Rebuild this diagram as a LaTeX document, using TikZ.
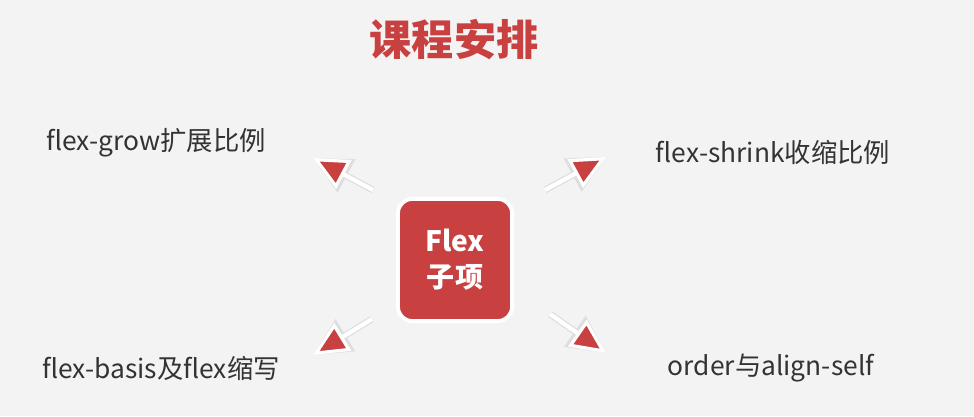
\documentclass[tikz,border=0pt]{standalone}
\usepackage{fontspec}
\setmainfont{Noto Sans CJK SC}
\usepackage{tikz}
\usetikzlibrary{arrows.meta, shadows}
\definecolor{flexred}{HTML}{C8403F}
\definecolor{bggray}{HTML}{F3F3F3}
\definecolor{txtgray}{HTML}{333333}

\begin{document}
\begin{tikzpicture}[x=0.02cm,y=-0.02cm,every node/.style={align=center,inner sep=0pt},
  item/.style={font=\fontsize{15}{18}\selectfont, text=txtgray},
  flexbox/.style={fill=flexred, draw=white, line width=2.2pt, rounded corners=0.28cm, minimum width=2.28cm, minimum height=2.44cm, text=white, font=\bfseries\fontsize{16}{20.5}\selectfont, drop shadow={opacity=0.2, shadow xshift=0.6pt, shadow yshift=-0.6pt}},
  shaftbg/.style={line width=3.8pt, black!13, -{Triangle[length=0.76cm, width=0.72cm]}},
  pointer/.style={line width=2.4pt, white, -{Triangle[length=0.7cm, width=0.64cm, fill=flexred, line width=1.8pt]}}]
 \fill[bggray] (0,0) rectangle (974,416);
 \node[font=\bfseries\fontsize{24}{28}\selectfont, text=flexred] (title) at (454,40) {课程安排};
 \node[flexbox] (sub) at (455,260) {Flex\\子项};
 \node[item] (grow) at (156,143) {flex-grow扩展比例};
 \node[item] (shrink) at (773,152) {flex-shrink收缩比例};
 \node[item] (basis) at (161,368) {flex-basis及flex缩写};
 \node[item] (order) at (771,368) {order与align-self};
 % arrow ends
 \coordinate (gs) at (373,190); \coordinate (ge) at (313,158);
 \coordinate (ss) at (545,190); \coordinate (se) at (606,157);
 \coordinate (bs) at (372,319); \coordinate (be) at (313,355);
 \coordinate (os) at (550,314); \coordinate (oe) at (606,353);
 \foreach \a/\b in {gs/ge, ss/se, bs/be, os/oe}{
  \draw[shaftbg] (\a) -- (\b);
  \draw[pointer] (\a) -- (\b);
 }
\end{tikzpicture}
\end{document}
